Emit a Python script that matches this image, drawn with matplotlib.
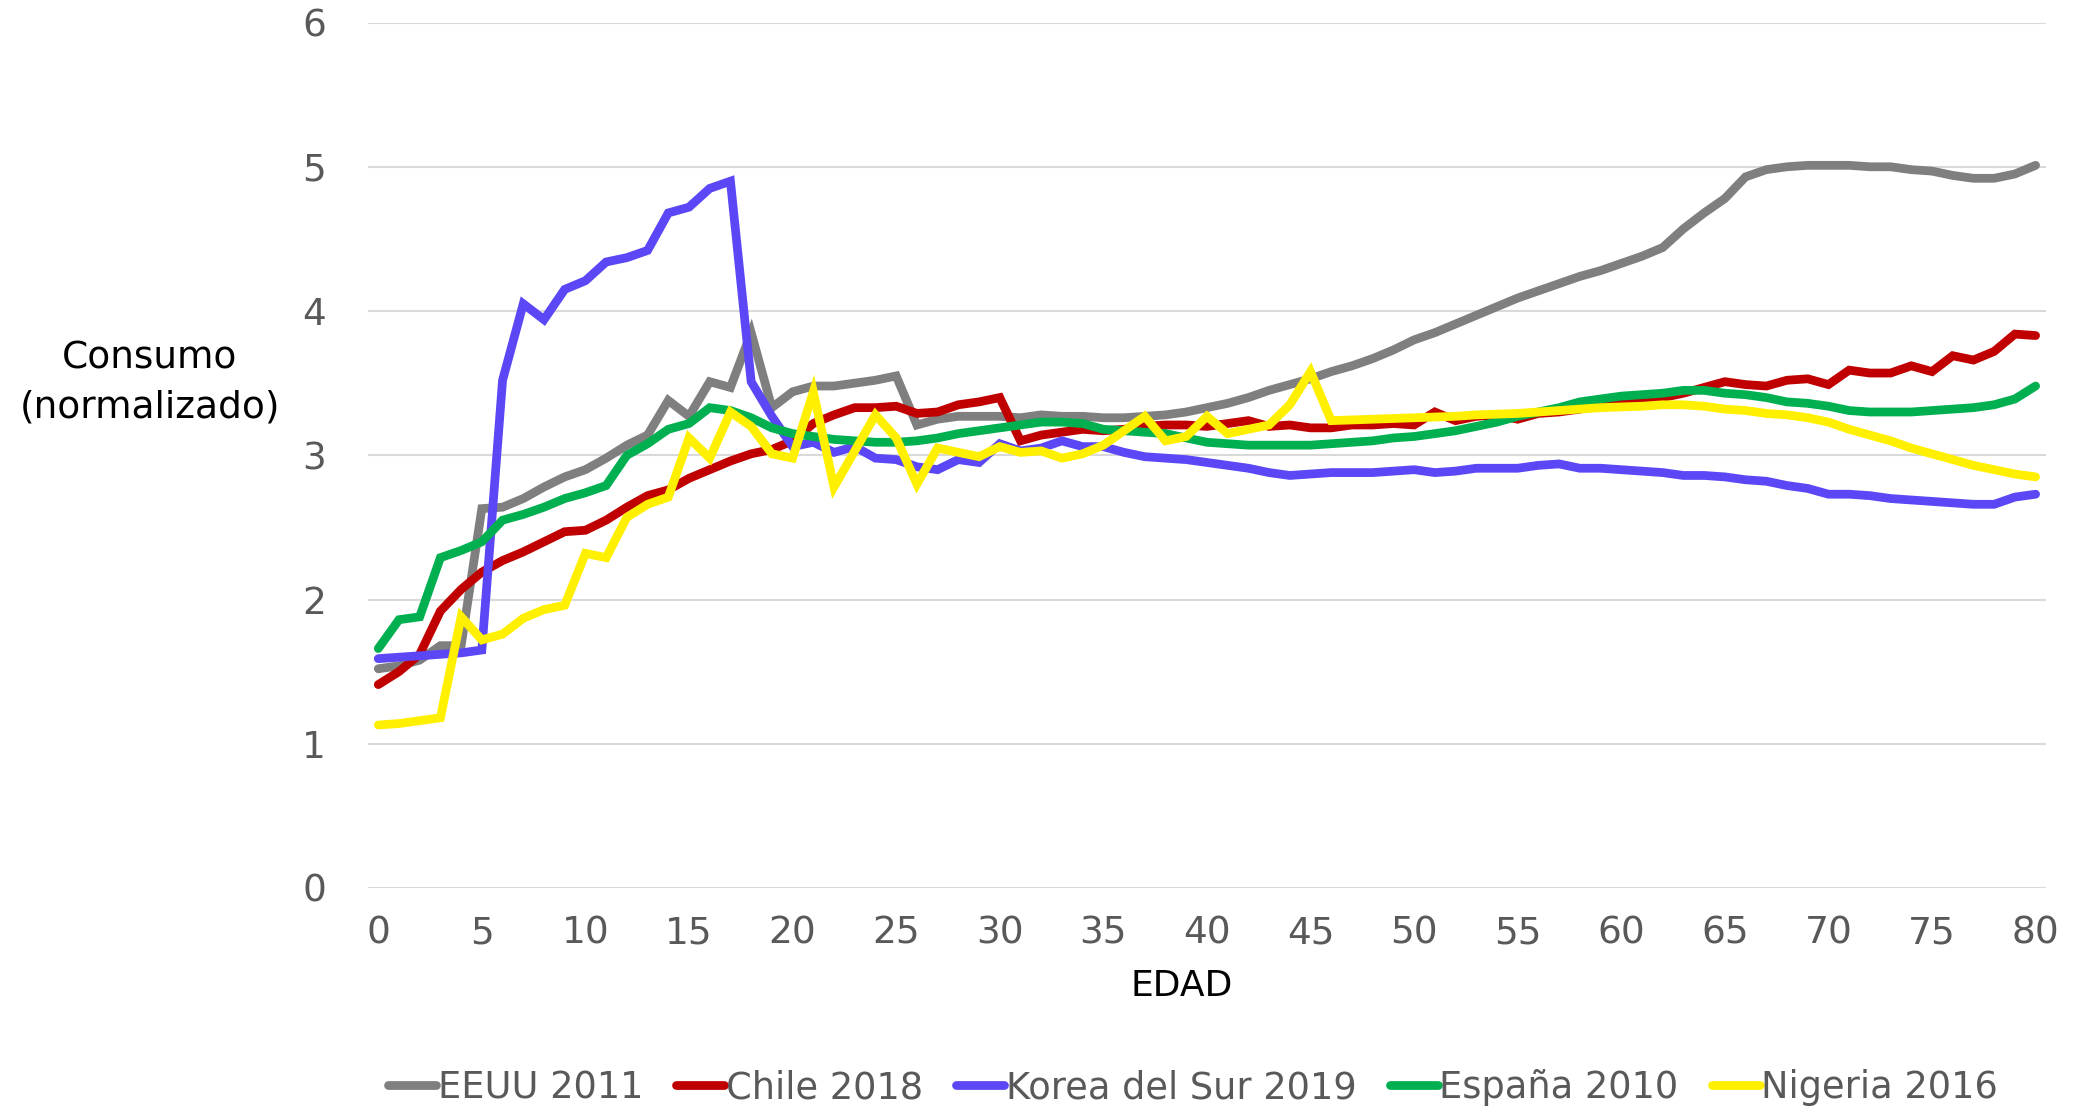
import numpy as np
import matplotlib
matplotlib.use("Agg")
import matplotlib.pyplot as plt

plt.rcParams['font.family'] = ['DejaVu Sans']

edad = np.arange(0, 81)

eeuu_2011 = [1.52, 1.54, 1.58, 1.68, 1.68, 2.63, 2.64, 2.70, 2.78, 2.85,
             2.90, 2.98, 3.07, 3.14, 3.38, 3.27, 3.51, 3.47, 3.85, 3.33,
             3.44, 3.48, 3.48, 3.50, 3.52, 3.55, 3.21, 3.25, 3.27, 3.27,
             3.27, 3.26, 3.28, 3.27, 3.27, 3.26, 3.26, 3.27, 3.28, 3.30,
             3.33, 3.36, 3.40, 3.45, 3.49, 3.53, 3.58, 3.62, 3.67, 3.73,
             3.80, 3.85, 3.91, 3.97, 4.03, 4.09, 4.14, 4.19, 4.24, 4.28,
             4.33, 4.38, 4.44, 4.57, 4.68, 4.78, 4.93, 4.98, 5.00, 5.01,
             5.01, 5.01, 5.00, 5.00, 4.98, 4.97, 4.94, 4.92, 4.92, 4.95,
             5.01]

chile_2018 = [1.41, 1.50, 1.62, 1.92, 2.07, 2.19, 2.27, 2.33, 2.40, 2.47,
              2.48, 2.55, 2.64, 2.72, 2.76, 2.84, 2.90, 2.96, 3.01, 3.04,
              3.10, 3.22, 3.28, 3.33, 3.33, 3.34, 3.29, 3.30, 3.35, 3.37,
              3.40, 3.10, 3.14, 3.16, 3.18, 3.17, 3.18, 3.20, 3.21, 3.21,
              3.20, 3.22, 3.24, 3.20, 3.21, 3.19, 3.19, 3.21, 3.21, 3.22,
              3.21, 3.30, 3.24, 3.27, 3.28, 3.25, 3.29, 3.30, 3.32, 3.35,
              3.36, 3.38, 3.40, 3.43, 3.47, 3.51, 3.49, 3.48, 3.52, 3.53,
              3.49, 3.59, 3.57, 3.57, 3.62, 3.58, 3.69, 3.66, 3.72, 3.84,
              3.83]

korea_2019 = [1.59, 1.60, 1.61, 1.62, 1.63, 1.65, 3.52, 4.05, 3.94, 4.15,
              4.21, 4.34, 4.37, 4.42, 4.68, 4.72, 4.85, 4.90, 3.51, 3.27,
              3.06, 3.09, 3.02, 3.06, 2.98, 2.97, 2.92, 2.90, 2.97, 2.95,
              3.08, 3.03, 3.05, 3.10, 3.06, 3.06, 3.02, 2.99, 2.98, 2.97,
              2.95, 2.93, 2.91, 2.88, 2.86, 2.87, 2.88, 2.88, 2.88, 2.89,
              2.90, 2.88, 2.89, 2.91, 2.91, 2.91, 2.93, 2.94, 2.91, 2.91,
              2.90, 2.89, 2.88, 2.86, 2.86, 2.85, 2.83, 2.82, 2.79, 2.77,
              2.73, 2.73, 2.72, 2.70, 2.69, 2.68, 2.67, 2.66, 2.66, 2.71,
              2.73]

espana_2010 = [1.66, 1.86, 1.88, 2.29, 2.34, 2.40, 2.55, 2.59, 2.64, 2.70,
               2.74, 2.79, 3.00, 3.08, 3.18, 3.22, 3.33, 3.31, 3.26, 3.19,
               3.15, 3.13, 3.11, 3.10, 3.09, 3.09, 3.10, 3.12, 3.15, 3.17,
               3.19, 3.21, 3.23, 3.23, 3.22, 3.18, 3.17, 3.16, 3.15, 3.12,
               3.09, 3.08, 3.07, 3.07, 3.07, 3.07, 3.08, 3.09, 3.10, 3.12,
               3.13, 3.15, 3.17, 3.20, 3.23, 3.27, 3.30, 3.33, 3.37, 3.39,
               3.41, 3.42, 3.43, 3.45, 3.45, 3.43, 3.42, 3.40, 3.37, 3.36,
               3.34, 3.31, 3.30, 3.30, 3.30, 3.31, 3.32, 3.33, 3.35, 3.39,
               3.48]

nigeria_2016 = [1.13, 1.14, 1.16, 1.18, 1.88, 1.72, 1.76, 1.87, 1.93, 1.96,
                2.32, 2.29, 2.57, 2.66, 2.71, 3.12, 2.98, 3.30, 3.20, 3.01,
                2.98, 3.44, 2.78, 3.03, 3.28, 3.12, 2.80, 3.05, 3.02, 2.99,
                3.06, 3.02, 3.03, 2.98, 3.01, 3.07, 3.17, 3.27, 3.10, 3.13,
                3.27, 3.15, 3.18, 3.21, 3.35, 3.58, 3.24, 3.245, 3.25, 3.255,
                3.26, 3.265, 3.27, 3.28, 3.285, 3.29, 3.30, 3.31, 3.32, 3.33,
                3.335, 3.34, 3.35, 3.35, 3.34, 3.32, 3.31, 3.29, 3.28, 3.26,
                3.23, 3.18, 3.14, 3.10, 3.05, 3.01, 2.97, 2.93, 2.90, 2.87,
                2.85]

series = [
    ("EEUU 2011", eeuu_2011, "#7F7F7F"),
    ("Chile 2018", chile_2018, "#C00000"),
    ("Korea del Sur 2019", korea_2019, "#5B47F5"),
    ("España 2010", espana_2010, "#00B050"),
    ("Nigeria 2016", nigeria_2016, "#FFF000"),
]

fig = plt.figure(figsize=(20.75, 11.1), dpi=100)
ax = fig.add_axes([0.1773, 0.2, 0.8087, 0.7797])

for name, vals, col in series:
    ax.plot(edad, vals, color=col, lw=6.3, label=name,
            solid_joinstyle='miter', solid_capstyle='round')

ax.set_xlim(-0.5, 80.5)
ax.set_ylim(0, 6)
ax.set_xticks(range(0, 81, 5))
ax.set_yticks(range(0, 7))
ax.grid(axis='y', color='#D9D9D9', lw=1.5)
ax.set_axisbelow(True)
for s in ax.spines.values():
    s.set_visible(False)
ax.tick_params(axis='both', length=0, labelsize=27, labelcolor='#595959')
ax.tick_params(axis='y', pad=30)
ax.tick_params(axis='x', pad=20)

fig.text(0.5696, 0.112, "EDAD", ha='center', va='center', fontsize=26, color='black')
fig.text(0.0723, 0.655, "Consumo\n(normalizado)", ha='center', va='center',
         fontsize=27, color='black', linespacing=1.45)

leg = fig.legend(loc='center', bbox_to_anchor=(0.575, 0.02), ncol=5, frameon=False,
                 fontsize=26.5, handlelength=1.3, handletextpad=0.05, columnspacing=0.9)
for t in leg.get_texts():
    t.set_color('#595959')

fig.savefig("out.png", dpi=100)
